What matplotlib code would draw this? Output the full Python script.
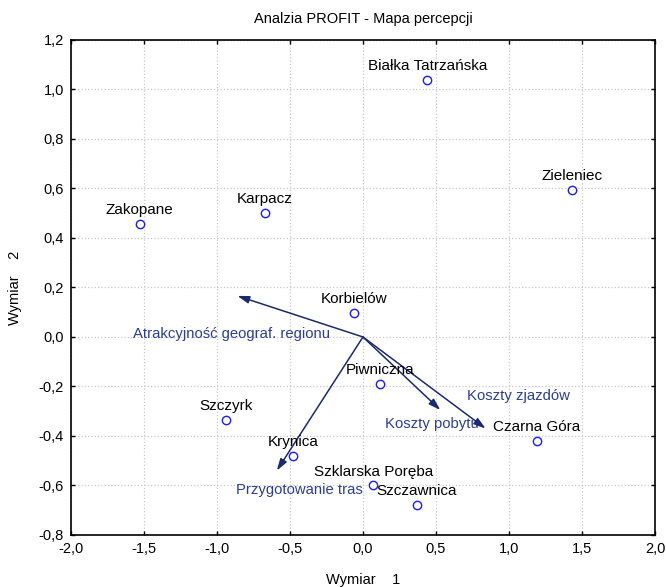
import matplotlib
matplotlib.use("Agg")
import matplotlib.pyplot as plt
from matplotlib.ticker import FuncFormatter, MultipleLocator

plt.rcParams['font.family'] = ['Liberation Sans', 'DejaVu Sans']

# miejscowosci (punkty)
places = ['Białka Tatrzańska', 'Zieleniec', 'Zakopane', 'Karpacz', 'Korbielów',
          'Piwniczna', 'Szczyrk', 'Krynica', 'Szklarska Poręba', 'Szczawnica',
          'Czarna Góra']
dim1 = [0.44, 1.43, -1.53, -0.67, -0.06, 0.12, -0.94, -0.48, 0.07, 0.37, 1.19]
dim2 = [1.04, 0.595, 0.455, 0.50, 0.097, -0.19, -0.335, -0.48, -0.60, -0.68, -0.42]

# atrybuty (wektory)
attrs = ['Atrakcyjność geograf. regionu', 'Koszty pobytu', 'Koszty zjazdów',
         'Przygotowanie tras']
attr_x = [-0.86, 0.53, 0.84, -0.59]
attr_y = [0.166, -0.295, -0.37, -0.54]
attr_label_x = [-1.575, 0.15, 0.71, -0.87]
attr_label_y = [0.013, -0.35, -0.237, -0.618]

fig = plt.figure(figsize=(6.66, 5.87), dpi=100)
ax = fig.add_axes([0.1065, 0.0886, 0.877, 0.8433])

ax.set_xlim(-2, 2)
ax.set_ylim(-0.8, 1.2)
ax.xaxis.set_major_locator(MultipleLocator(0.5))
ax.yaxis.set_major_locator(MultipleLocator(0.2))
fmt = FuncFormatter(lambda v, p: ('%.1f' % v).replace('.', ',').replace('-0,0', '0,0'))
ax.xaxis.set_major_formatter(fmt)
ax.yaxis.set_major_formatter(fmt)
ax.tick_params(direction='in', length=3, width=1, top=True, right=True, labelsize=10.5, pad=5)
ax.grid(True, color='#c8c8c8', linestyle=':', linewidth=0.9)
ax.set_axisbelow(True)
for s in ax.spines.values():
    s.set_linewidth(1.2)

arrow_col = '#1b2a6b'
text_col = '#2c3e91'
for x, y, lx, ly, name in zip(attr_x, attr_y, attr_label_x, attr_label_y, attrs):
    ax.annotate('', xy=(x, y), xytext=(0, 0),
                arrowprops=dict(arrowstyle='-|>,head_length=0.7,head_width=0.22',
                                color=arrow_col, lw=1.1, shrinkA=0, shrinkB=0))
    ax.text(lx, ly, name, color=text_col, fontsize=10.7, ha='left', va='center')

ax.plot(dim1, dim2, 'o', markerfacecolor='white', markeredgecolor='#1a1aff',
        markersize=6, markeredgewidth=1.0, linestyle='none', zorder=3)
for x, y, name in zip(dim1, dim2, places):
    ax.annotate(name, (x, y), xytext=(0, 5), textcoords='offset points',
                ha='center', va='bottom', fontsize=11, color='black')

ax.set_title('Analzia PROFIT - Mapa percepcji', fontsize=10.5, pad=12)
ax.set_xlabel('Wymiar    1', fontsize=10.5, labelpad=12)
ax.set_ylabel('Wymiar    2', fontsize=10.5, labelpad=12)

fig.savefig('out.png', dpi=100)
